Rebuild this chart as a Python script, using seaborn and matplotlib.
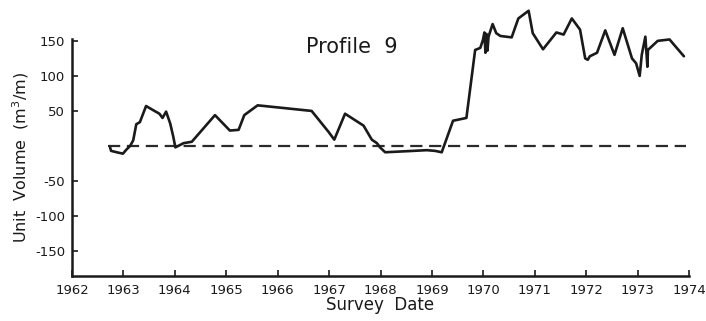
import matplotlib
matplotlib.use("Agg")
import matplotlib.pyplot as plt
import seaborn as sns
import pandas as pd

# Survey dates (decimal years) and unit volume (m3/m) for Profile 9
survey_year = [
    1962.74, 1962.76, 1962.87, 1962.99, 1963.06, 1963.13, 1963.19, 1963.25,
    1963.32, 1963.44, 1963.58, 1963.70, 1963.76, 1963.83, 1963.91, 1963.97,
    1964.01, 1964.17, 1964.33, 1964.78, 1965.07, 1965.24, 1965.35, 1965.61,
    1966.66, 1966.99, 1967.10, 1967.31, 1967.67, 1967.83, 1967.93, 1967.99,
    1968.09, 1968.64, 1968.90, 1969.06, 1969.19, 1969.41, 1969.67, 1969.84,
    1969.94, 1969.99, 1970.02, 1970.04, 1970.06, 1970.08, 1970.10, 1970.18,
    1970.25, 1970.33, 1970.55, 1970.68, 1970.88, 1970.96, 1971.16, 1971.42,
    1971.56, 1971.72, 1971.88, 1971.98, 1972.03, 1972.07, 1972.21, 1972.37,
    1972.55, 1972.71, 1972.89, 1972.97, 1973.04, 1973.08, 1973.15, 1973.19,
    1973.20, 1973.39, 1973.62, 1973.90,
]
unit_volume = [
    -2, -7, -9, -11, -5, 0, 8, 31,
    34, 57, 51, 46, 40, 49, 32, 13,
    -2, 4, 6, 44, 22, 23, 44, 58,
    50, 20, 9, 46, 29, 9, 4, -2,
    -9, -7, -6, -7, -9, 36, 40, 137,
    140, 151, 162, 133, 160, 136, 156, 174,
    161, 157, 155, 182, 193, 161, 138, 162,
    159, 182, 166, 125, 123, 128, 133, 165,
    130, 168, 125, 118, 100, 130, 156, 113,
    137, 150, 152, 128,
]

# Zero-volume reference line span
reference_year = [1962.70, 1973.95]
reference_volume = [0, 0]

year_ticks = list(range(1962, 1975))
volume_ticks = [150, 100, 50, -50, -100, -150]
volume_tick_labels = ["150", "100", "50", "-50", "-100", "-150"]

df = pd.DataFrame({"year": survey_year, "volume": unit_volume})
ref = pd.DataFrame({"year": reference_year, "volume": reference_volume})

sns.set_theme(style="ticks")
plt.rcParams["font.family"] = ["DejaVu Sans"]

fig = plt.figure(figsize=(7.06, 3.21), dpi=100)
ax = fig.add_axes([0.102, 0.140, 0.874, 0.739])

sns.lineplot(data=ref, x="year", y="volume", ax=ax, color="#2a2a2a",
             linewidth=1.6, linestyle=(0, (5.5, 3.0)), estimator=None)
sns.lineplot(data=df, x="year", y="volume", ax=ax, color="#1a1a1a",
             linewidth=1.9, estimator=None, sort=False)
# the record rises above the top of the value axis, as drawn on the sheet
for line in ax.lines:
    line.set_clip_on(False)

ax.set_xlim(1962, 1974)
ax.set_ylim(-185.7, 152.9)
ax.set_xticks(year_ticks)
ax.set_xticklabels([str(y) for y in year_ticks], fontsize=9.5)
ax.set_yticks(volume_ticks)
ax.set_yticklabels(volume_tick_labels, fontsize=9.5)

ax.tick_params(axis="both", direction="in", length=4, width=1.2,
               color="#1a1a1a", labelcolor="#1a1a1a")
ax.tick_params(axis="x", pad=6)
ax.tick_params(axis="y", pad=5)

sns.despine(ax=ax)
for side in ("left", "bottom"):
    ax.spines[side].set_linewidth(1.8)
    ax.spines[side].set_color("#1a1a1a")

ax.set_xlabel("Survey  Date", fontsize=12, color="#1a1a1a", labelpad=-1)
ax.set_ylabel("Unit  Volume  (m$^3$/m)", fontsize=11.5, color="#1a1a1a",
              labelpad=3)
ax.text(0.454, 0.965, "Profile  9", transform=ax.transAxes, ha="center",
        va="center", fontsize=15, color="#1a1a1a")

fig.savefig("out.png", dpi=100, facecolor="white")
